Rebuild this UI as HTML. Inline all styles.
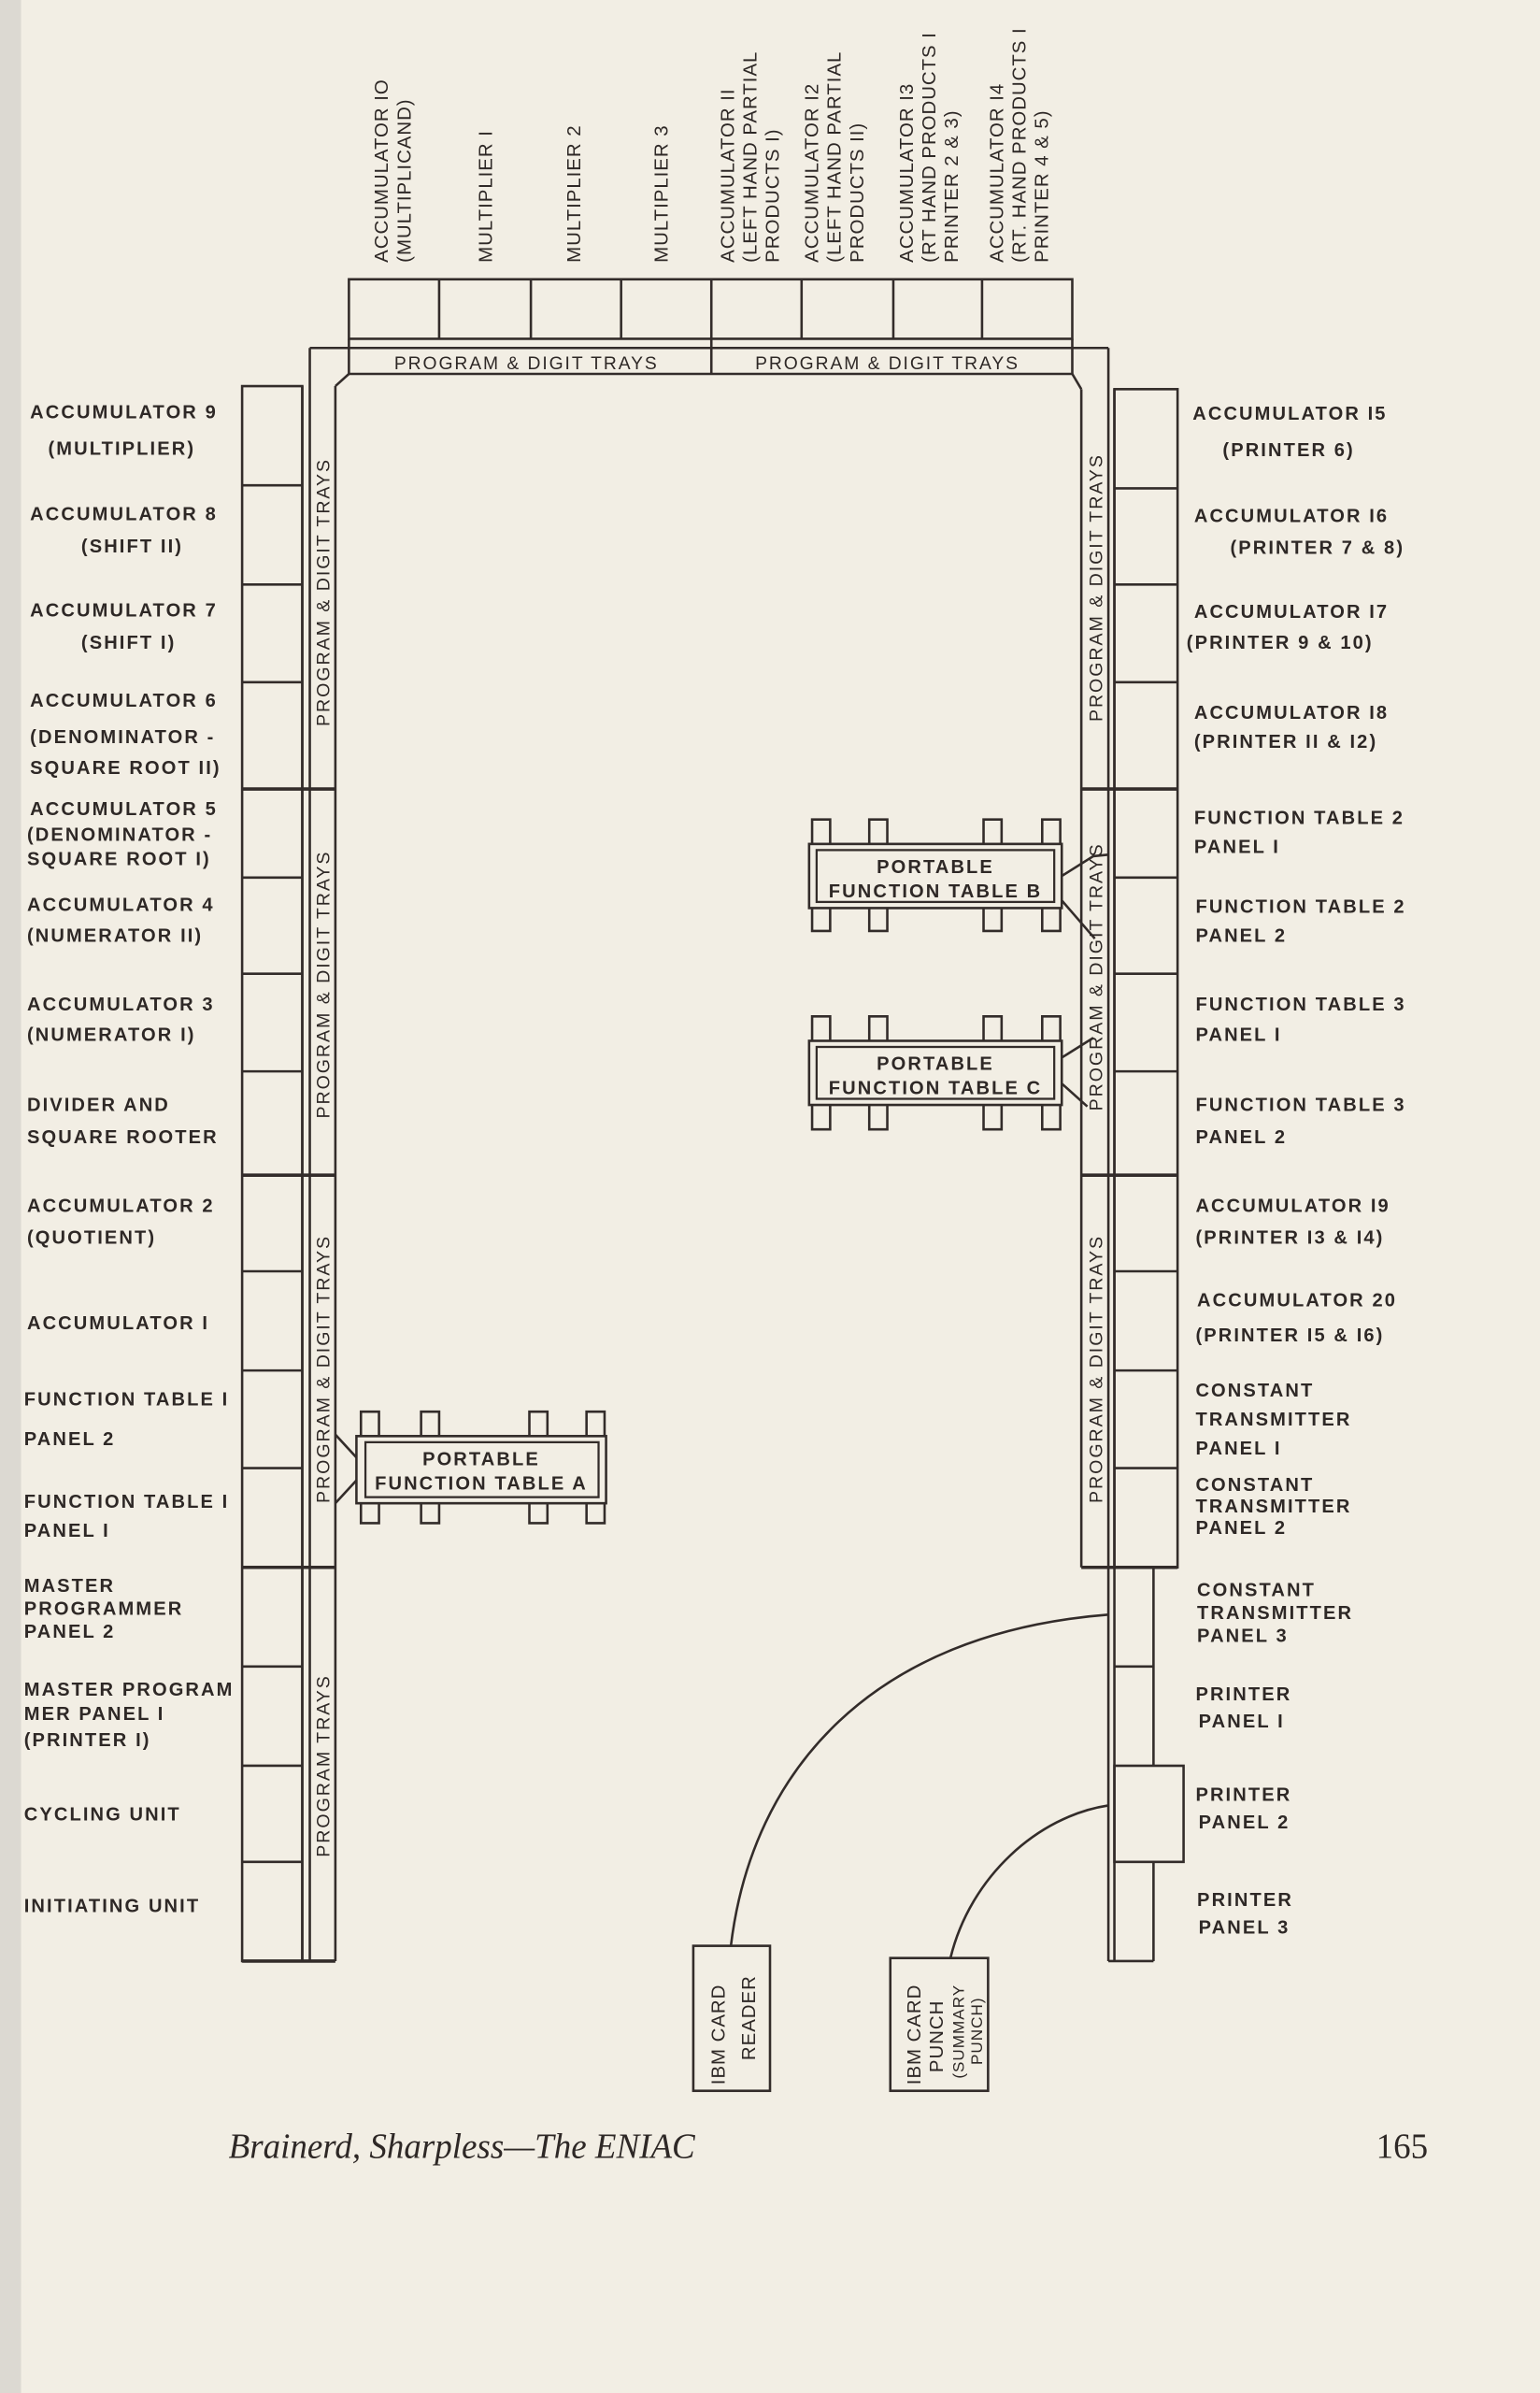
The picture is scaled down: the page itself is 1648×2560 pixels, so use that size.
<!DOCTYPE html>
<html><head><meta charset="utf-8"><style>
html,body{margin:0;padding:0;background:#f2eee4;}
svg{display:block}
text{font-family:"Liberation Sans",sans-serif;fill:#2e2826;}
.l{font-size:12.5px;letter-spacing:1.3px;font-weight:bold}
.t{font-size:12px;letter-spacing:1.2px}
.v{font-size:12.5px;letter-spacing:0.6px}
</style></head><body>
<svg width="1648" height="2560" viewBox="0 0 1024 1568" preserveAspectRatio="none" xmlns="http://www.w3.org/2000/svg">
<rect width="1024" height="1568" fill="#f2eee4"/>
<rect width="14" height="1568" fill="#dcd9d2"/>
<g fill="none" stroke="#332c2a" stroke-width="1.6">
<!-- top modules -->
<rect x="232" y="183" width="481" height="39"/>
<path d="M292 183V222M353 183V222M413 183V222M473 183V228M533 183V222M594 183V222M653 183V222"/>
<path d="M232 222V228M713 222V228"/>
<!-- top tray band -->
<path d="M206 228H737M232 245H713M473 228V245M232 228V245M713 228V245"/>
<!-- left frame -->
<path d="M206 228V1285M223 253V1285M223 253L232 245M201 253V1285"/>
<path d="M737 228V1027M719 255V1027M719 255L713 245"/>
<!-- left modules -->
<rect x="161" y="253" width="40" height="1032"/>
<path d="M161 318H201M161 383H201M161 447H201M161 575H201M161 638H201M161 702H201M161 833H201M161 898H201M161 962H201M161 1092H201M161 1157H201M161 1220H201"/>
<path d="M161 517H223M161 770H223M161 1027H223M161 1285H223" stroke-width="2.2"/>
<!-- right modules -->
<rect x="741" y="255" width="42" height="772"/>
<path d="M741 320H783M741 383H783M741 447H783M741 575H783M741 638H783M741 702H783M741 833H783M741 898H783M741 962H783"/>
<path d="M719 517H783M719 770H783M719 1027H783" stroke-width="2.2"/>
<path d="M741 255V1027"/>
<path d="M737 1027V1285M741 1027V1285M767 1027V1157M767 1220V1285M737 1285H767M741 1092H767"/>
<rect x="741" y="1157" width="46" height="63"/>
<!-- portable function tables -->
<rect x="237" y="941" width="166" height="44"/>
<path d="M240 941V925H252V941M280 941V925H292V941M352 941V925H364V941M390 941V925H402V941"/>
<path d="M240 985V998H252V985M280 985V998H292V985M352 985V998H364V985M390 985V998H402V985"/>
<path d="M237 955L223 940M237 970L223 985"/>
<rect x="538" y="553" width="168" height="42"/>
<path d="M540 553V537H552V553M578 553V537H590V553M654 553V537H666V553M693 553V537H705V553"/>
<path d="M540 595V610H552V595M578 595V610H590V595M654 595V610H666V595M693 595V610H705V595"/>
<path d="M706 574L727 561L737 560M706 590L728 615"/>
<rect x="538" y="682" width="168" height="42"/>
<path d="M540 682V666H552V682M578 682V666H590V682M654 682V666H666V682M693 682V666H705V682"/>
<path d="M540 724V740H552V724M578 724V740H590V724M654 724V740H666V724M693 724V740H705V724"/>
<path d="M706 693L727 680M706 710L723 725"/>
<!-- IBM -->
<rect x="461" y="1275" width="51" height="95"/>
<rect x="592" y="1283" width="65" height="87"/>
<path d="M486 1275C500 1160 580 1070 737 1058"/>
<path d="M632 1283C645 1230 690 1190 737 1183"/>
</g>
<g fill="#f2eee4" stroke="#332c2a" stroke-width="1.4">
<rect x="243" y="945" width="155" height="36"/>
<rect x="543" y="557" width="158" height="34"/>
<rect x="543" y="686" width="158" height="34"/>
</g>
<!-- tray labels -->
<text class="t" x="350" y="242" text-anchor="middle">PROGRAM &amp; DIGIT TRAYS</text>
<text class="t" x="590" y="242" text-anchor="middle">PROGRAM &amp; DIGIT TRAYS</text>
<g class="t" text-anchor="middle">
<text transform="translate(219,388) rotate(-90)">PROGRAM &amp; DIGIT TRAYS</text>
<text transform="translate(219,645) rotate(-90)">PROGRAM &amp; DIGIT TRAYS</text>
<text transform="translate(219,897) rotate(-90)">PROGRAM &amp; DIGIT TRAYS</text>
<text transform="translate(219,1157) rotate(-90)">PROGRAM TRAYS</text>
<text transform="translate(733,385) rotate(-90)">PROGRAM &amp; DIGIT TRAYS</text>
<text transform="translate(733,640) rotate(-90)">PROGRAM &amp; DIGIT TRAYS</text>
<text transform="translate(733,897) rotate(-90)">PROGRAM &amp; DIGIT TRAYS</text>
</g>
<g class="l" text-anchor="middle">
<text x="320" y="960">PORTABLE</text><text x="320" y="976">FUNCTION TABLE A</text>
<text x="622" y="572">PORTABLE</text><text x="622" y="588">FUNCTION TABLE B</text>
<text x="622" y="701">PORTABLE</text><text x="622" y="717">FUNCTION TABLE C</text>
</g>
<!-- top labels -->
<g class="v">
<text transform="translate(258,172) rotate(-90)">ACCUMULATOR IO</text>
<text transform="translate(273,172) rotate(-90)">(MULTIPLICAND)</text>
<text transform="translate(327,172) rotate(-90)">MULTIPLIER I</text>
<text transform="translate(386,172) rotate(-90)">MULTIPLIER 2</text>
<text transform="translate(444,172) rotate(-90)">MULTIPLIER 3</text>
<text transform="translate(488,172) rotate(-90)">ACCUMULATOR II</text>
<text transform="translate(503,172) rotate(-90)">(LEFT HAND PARTIAL</text>
<text transform="translate(518,172) rotate(-90)">PRODUCTS I)</text>
<text transform="translate(544,172) rotate(-90)">ACCUMULATOR I2</text>
<text transform="translate(559,172) rotate(-90)">(LEFT HAND PARTIAL</text>
<text transform="translate(574,172) rotate(-90)">PRODUCTS II)</text>
<text transform="translate(607,172) rotate(-90)">ACCUMULATOR I3</text>
<text transform="translate(622,172) rotate(-90)">(RT HAND PRODUCTS I</text>
<text transform="translate(637,172) rotate(-90)">PRINTER 2 &amp; 3)</text>
<text transform="translate(667,172) rotate(-90)">ACCUMULATOR I4</text>
<text transform="translate(682,172) rotate(-90)">(RT. HAND PRODUCTS I</text>
<text transform="translate(697,172) rotate(-90)">PRINTER 4 &amp; 5)</text>
</g>
<!-- left labels -->
<g class="l">
<text x="20" y="274">ACCUMULATOR 9</text><text x="32" y="298">(MULTIPLIER)</text>
<text x="20" y="341">ACCUMULATOR 8</text><text x="54" y="362">(SHIFT II)</text>
<text x="20" y="404">ACCUMULATOR 7</text><text x="54" y="425">(SHIFT I)</text>
<text x="20" y="463">ACCUMULATOR 6</text><text x="20" y="487">(DENOMINATOR -</text><text x="20" y="507">SQUARE ROOT II)</text>
<text x="20" y="534">ACCUMULATOR 5</text><text x="18" y="551">(DENOMINATOR -</text><text x="18" y="567">SQUARE ROOT I)</text>
<text x="18" y="597">ACCUMULATOR 4</text><text x="18" y="617">(NUMERATOR II)</text>
<text x="18" y="662">ACCUMULATOR 3</text><text x="18" y="682">(NUMERATOR I)</text>
<text x="18" y="728">DIVIDER AND</text><text x="18" y="749">SQUARE ROOTER</text>
<text x="18" y="794">ACCUMULATOR 2</text><text x="18" y="815">(QUOTIENT)</text>
<text x="18" y="871">ACCUMULATOR I</text>
<text x="16" y="921">FUNCTION TABLE I</text><text x="16" y="947">PANEL 2</text>
<text x="16" y="988">FUNCTION TABLE I</text><text x="16" y="1007">PANEL I</text>
<text x="16" y="1043">MASTER</text><text x="16" y="1058">PROGRAMMER</text><text x="16" y="1073">PANEL 2</text>
<text x="16" y="1111">MASTER PROGRAM</text><text x="16" y="1127">MER PANEL I</text><text x="16" y="1144">(PRINTER I)</text>
<text x="16" y="1193">CYCLING UNIT</text>
<text x="16" y="1253">INITIATING UNIT</text>
</g>
<!-- right labels -->
<g class="l">
<text x="793" y="275">ACCUMULATOR I5</text><text x="813" y="299">(PRINTER 6)</text>
<text x="794" y="342">ACCUMULATOR I6</text><text x="818" y="363">(PRINTER 7 &amp; 8)</text>
<text x="794" y="405">ACCUMULATOR I7</text><text x="789" y="425">(PRINTER 9 &amp; 10)</text>
<text x="794" y="471">ACCUMULATOR I8</text><text x="794" y="490">(PRINTER II &amp; I2)</text>
<text x="794" y="540">FUNCTION TABLE 2</text><text x="794" y="559">PANEL I</text>
<text x="795" y="598">FUNCTION TABLE 2</text><text x="795" y="617">PANEL 2</text>
<text x="795" y="662">FUNCTION TABLE 3</text><text x="795" y="682">PANEL I</text>
<text x="795" y="728">FUNCTION TABLE 3</text><text x="795" y="749">PANEL 2</text>
<text x="795" y="794">ACCUMULATOR I9</text><text x="795" y="815">(PRINTER I3 &amp; I4)</text>
<text x="796" y="856">ACCUMULATOR 20</text><text x="795" y="879">(PRINTER I5 &amp; I6)</text>
<text x="795" y="915">CONSTANT</text><text x="795" y="934">TRANSMITTER</text><text x="795" y="953">PANEL I</text>
<text x="795" y="977">CONSTANT</text><text x="795" y="991">TRANSMITTER</text><text x="795" y="1005">PANEL 2</text>
<text x="796" y="1046">CONSTANT</text><text x="796" y="1061">TRANSMITTER</text><text x="796" y="1076">PANEL 3</text>
<text x="795" y="1114">PRINTER</text><text x="797" y="1132">PANEL I</text>
<text x="795" y="1180">PRINTER</text><text x="797" y="1198">PANEL 2</text>
<text x="796" y="1249">PRINTER</text><text x="797" y="1267">PANEL 3</text>
</g>
<g class="v">
<text transform="translate(482,1366) rotate(-90)">IBM CARD</text>
<text transform="translate(502,1350) rotate(-90)">READER</text>
<text transform="translate(612,1366) rotate(-90)">IBM CARD</text>
<text transform="translate(627,1358) rotate(-90)">PUNCH</text>
<text transform="translate(641,1362) rotate(-90)" style="font-size:10.5px">(SUMMARY</text>
<text transform="translate(653,1353) rotate(-90)" style="font-size:10.5px">PUNCH)</text>
</g>
<text x="152" y="1414" style="font-family:'Liberation Serif',serif;font-style:italic;font-size:23px">Brainerd, Sharpless—The ENIAC</text>
<text x="915" y="1414" style="font-family:'Liberation Serif',serif;font-size:23px">165</text>
</svg>
</body></html>
